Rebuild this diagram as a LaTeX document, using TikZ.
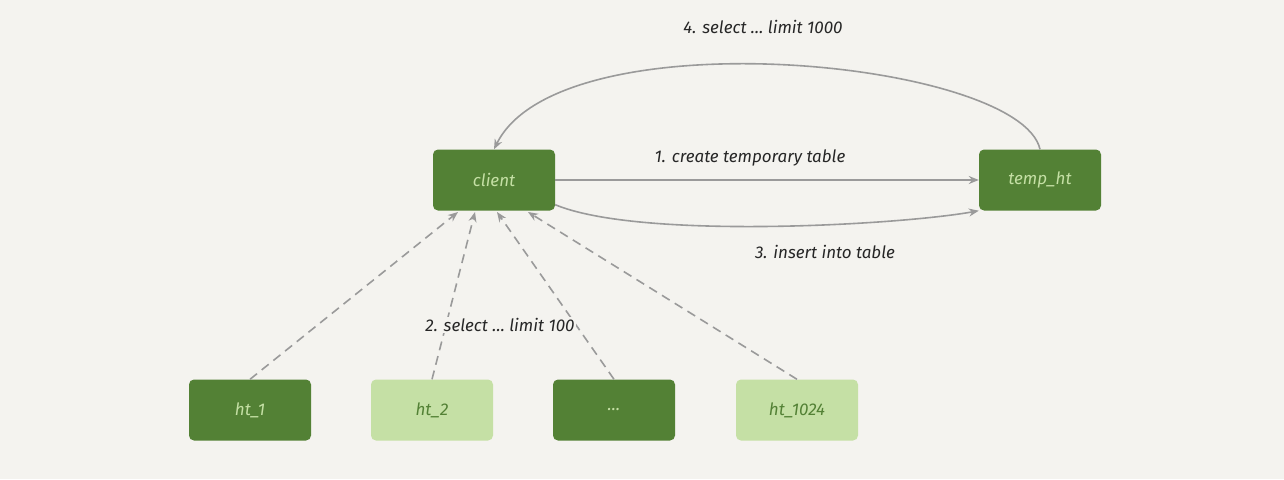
\documentclass[tikz,border=0pt]{standalone}
\usepackage{fontspec}
\setmainfont{Fira Sans}
\usetikzlibrary{arrows.meta}
\definecolor{bg}{HTML}{F4F3EF}
\definecolor{dk}{HTML}{538135}
\definecolor{lt}{HTML}{C5E0A5}
\definecolor{ln}{HTML}{9A9A9A}
\begin{document}
\begin{tikzpicture}[x=1pt,y=-1pt,
 box/.style={rounded corners=5pt,minimum width=122pt,minimum height=61pt,inner sep=0pt,font=\fontsize{17}{20}\selectfont\itshape},
 dkb/.style={box,fill=dk,text=lt},
 ltb/.style={box,fill=lt,text=dk},
 arr/.style={draw=ln,line width=1.6pt,-{Stealth[length=10pt,width=8pt]}},
 lbl/.style={font=\fontsize{17}{20}\selectfont\itshape,text=black!85}]
\fill[bg] (0,0) rectangle (1284,479);
\node[dkb] (client) at (494,180) {client};
\node[dkb] (temp) at (1040,180) {temp\_ht};
\node[dkb] (h1) at (250,410) {ht\_1};
\node[ltb] (h2) at (432,410) {ht\_2};
\node[dkb] (h3) at (614,410) {…};
\node[ltb] (h4) at (797,410) {ht\_1024};
\draw[arr] (client.east) -- (temp.west);
\node[lbl] (l1) at (750,158) {1. create temporary table};
\draw[arr] (client.south east) ++(0,-6) coordinate (c3) (c3) .. controls (640,240) and (900,225) .. (temp.south west);
\node[lbl] (l3) at (825,252) {3. insert into table};
\draw[arr] (temp.north) .. controls (1020,60) and (560,15) .. (client.north);
\node[lbl] (l4) at (763,27) {4. select … limit 1000};
\draw[arr,dashed,dash pattern=on 9pt off 6pt] (h1.north) -- (458,212);
\draw[arr,dashed,dash pattern=on 9pt off 6pt] (h2.north) -- (475,212);
\draw[arr,dashed,dash pattern=on 9pt off 6pt] (h3.north) -- (497,212);
\draw[arr,dashed,dash pattern=on 9pt off 6pt] (h4.north) -- (528,212);
\node[lbl,fill=bg,inner sep=1pt] (l2) at (500,325) {2. select … limit 100};
\end{tikzpicture}
\end{document}
